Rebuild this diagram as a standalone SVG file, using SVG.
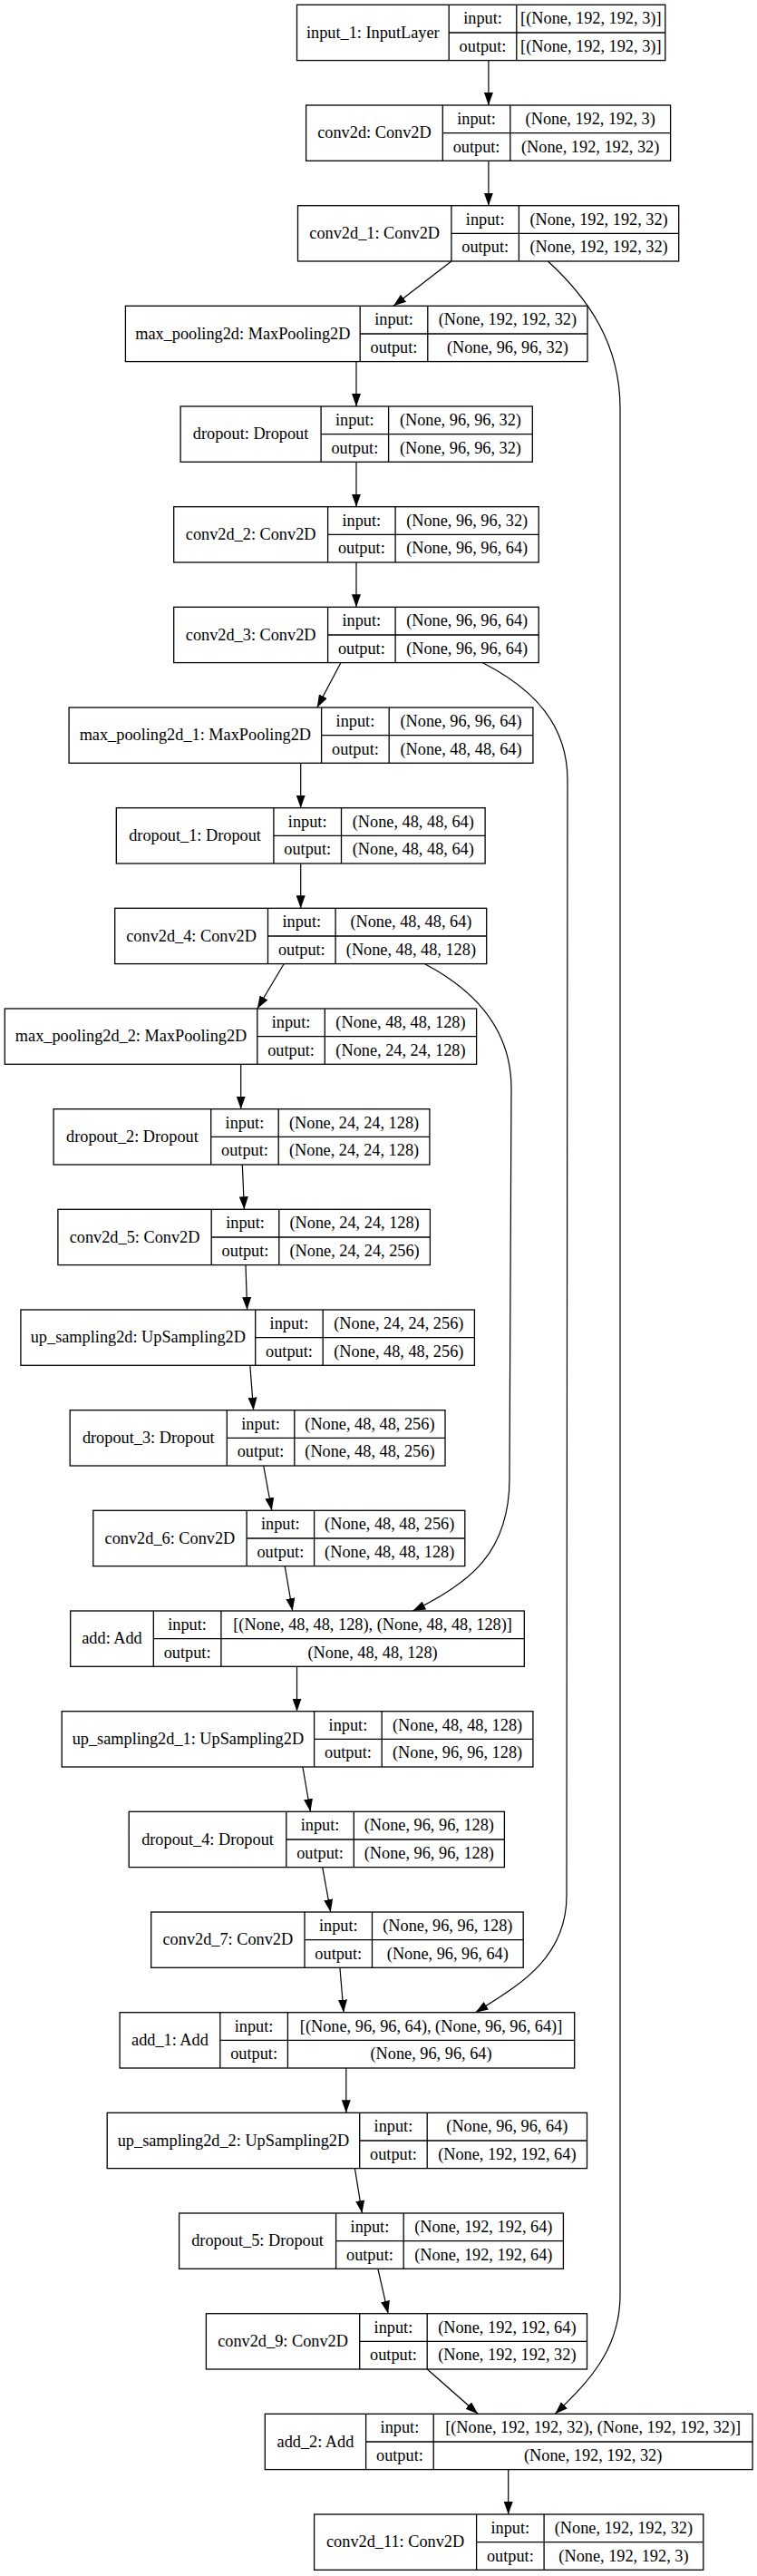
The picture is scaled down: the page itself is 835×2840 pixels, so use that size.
<svg xmlns="http://www.w3.org/2000/svg" width="835" height="2840" viewBox="0 0 835 2840">
<style>
.node rect{fill:#fff;stroke:#000;stroke-width:1.3}
.node path{fill:none;stroke:#000;stroke-width:1.3}
.node text{font-family:"Liberation Serif","Times New Roman",serif;font-size:18.3px;fill:#000;text-anchor:middle}
.edges path{fill:none;stroke:#000;stroke-width:1.2;marker-end:url(#arr)}
</style>
<defs>
<marker id="arr" viewBox="0 0 14 10" refX="14" refY="5" markerWidth="14" markerHeight="10" markerUnits="userSpaceOnUse" orient="auto">
<path d="M0,0 L14,5 L0,10 z" fill="#000"/>
</marker>
</defs>
<rect width="835" height="2840" fill="#fff"/>
<g class="edges" id="connectors">
<path d="M538.9,66.7 L538.9,116"/>
<path d="M538.9,177.3 L538.9,226.7"/>
<path d="M497.9,288 L434,337.3"/>
<path d="M393,398.7 L393,448"/>
<path d="M393,509.3 L393,558.7"/>
<path d="M393,620 L393,669.3"/>
<path d="M375.9,730.7 L349.8,780"/>
<path d="M331.7,841.3 L331.7,890.7"/>
<path d="M331.7,952 L331.7,1001.3"/>
<path d="M313.1,1062.7 L283.8,1112"/>
<path d="M265.7,1173.3 L265.7,1222.7"/>
<path d="M267.3,1284 L269.4,1333.3"/>
<path d="M271,1394.7 L272.6,1444"/>
<path d="M275.8,1505.3 L279.6,1554.7"/>
<path d="M290.7,1616 L299.8,1665.3"/>
<path d="M314.2,1726.7 L322.7,1776"/>
<path d="M327.5,1837.3 L327.5,1886.7"/>
<path d="M333.9,1948 L342.4,1997.3"/>
<path d="M355.7,2058.7 L364.7,2108"/>
<path d="M374.9,2169.3 L379.1,2218.7"/>
<path d="M381.8,2280 L381.8,2329.3"/>
<path d="M391.4,2390.7 L399.4,2440"/>
<path d="M416.9,2501.3 L428.1,2550.7"/>
<path d="M471.2,2612 L527.2,2661.3"/>
<path d="M560.7,2722.7 L560.7,2772"/>
<path d="M604.4,288 C650,330 684,380 684,450 L684,2530 C684,2590 650,2625 612.4,2661.3"/>
<path d="M532.5,730.7 C590,760 626,800 626,860 L625,2090 C625,2160 570,2190 524.5,2218.7"/>
<path d="M468.6,1062.7 C530,1095 564,1140 564,1200 L562,1630 C562,1710 520,1745 455.3,1776"/>
</g>
<g id="input_1" class="node"><rect x="327.5" y="5.3" width="406.3" height="61.3"/><path d="M495.2,5.3V66.7M569.8,5.3V66.7M495.2,36H733.8"/><text x="411.35" y="41.7">input_1: InputLayer</text><text x="532.5" y="26.3">input:</text><text x="532.5" y="57">output:</text><text x="651.8" y="26.3">[(None, 192, 192, 3)]</text><text x="651.8" y="57">[(None, 192, 192, 3)]</text></g>
<g id="conv2d" class="node"><rect x="337.6" y="116" width="402" height="61.3"/><path d="M488.3,116V177.3M562.8,116V177.3M488.3,146.7H739.6"/><text x="412.95" y="152.4">conv2d: Conv2D</text><text x="525.55" y="137">input:</text><text x="525.55" y="167.7">output:</text><text x="651.2" y="137">(None, 192, 192, 3)</text><text x="651.2" y="167.7">(None, 192, 192, 32)</text></g>
<g id="conv2d_1" class="node"><rect x="328.5" y="226.7" width="420.2" height="61.3"/><path d="M497.9,226.7V288M572.4,226.7V288M497.9,257.3H748.7"/><text x="413.2" y="263.1">conv2d_1: Conv2D</text><text x="535.15" y="247.7">input:</text><text x="535.15" y="278.4">output:</text><text x="660.55" y="247.7">(None, 192, 192, 32)</text><text x="660.55" y="278.4">(None, 192, 192, 32)</text></g>
<g id="max_pooling2d" class="node"><rect x="138.4" y="337.3" width="509.6" height="61.3"/><path d="M397.2,337.3V398.7M471.8,337.3V398.7M397.2,368H648"/><text x="267.8" y="373.7">max_pooling2d: MaxPooling2D</text><text x="434.5" y="358.3">input:</text><text x="434.5" y="389">output:</text><text x="559.9" y="358.3">(None, 192, 192, 32)</text><text x="559.9" y="389">(None, 96, 96, 32)</text></g>
<g id="dropout" class="node"><rect x="199.1" y="448" width="388.2" height="61.3"/><path d="M354.1,448V509.3M428.6,448V509.3M354.1,478.7H587.3"/><text x="276.6" y="484.4">dropout: Dropout</text><text x="391.35" y="469">input:</text><text x="391.35" y="499.7">output:</text><text x="507.95" y="469">(None, 96, 96, 32)</text><text x="507.95" y="499.7">(None, 96, 96, 32)</text></g>
<g id="conv2d_2" class="node"><rect x="191.7" y="558.7" width="402.5" height="61.3"/><path d="M361.6,558.7V620M436.1,558.7V620M361.6,589.3H594.2"/><text x="276.65" y="595.1">conv2d_2: Conv2D</text><text x="398.85" y="579.7">input:</text><text x="398.85" y="610.4">output:</text><text x="515.15" y="579.7">(None, 96, 96, 32)</text><text x="515.15" y="610.4">(None, 96, 96, 64)</text></g>
<g id="conv2d_3" class="node"><rect x="191.7" y="669.3" width="402.5" height="61.3"/><path d="M361.6,669.3V730.7M436.1,669.3V730.7M361.6,700H594.2"/><text x="276.65" y="705.7">conv2d_3: Conv2D</text><text x="398.85" y="690.3">input:</text><text x="398.85" y="721">output:</text><text x="515.15" y="690.3">(None, 96, 96, 64)</text><text x="515.15" y="721">(None, 96, 96, 64)</text></g>
<g id="max_pooling2d_1" class="node"><rect x="76.1" y="780" width="511.8" height="61.3"/><path d="M354.6,780V841.3M429.2,780V841.3M354.6,810.7H587.9"/><text x="215.35" y="816.4">max_pooling2d_1: MaxPooling2D</text><text x="391.9" y="801">input:</text><text x="391.9" y="831.7">output:</text><text x="508.55" y="801">(None, 96, 96, 64)</text><text x="508.55" y="831.7">(None, 48, 48, 64)</text></g>
<g id="dropout_1" class="node"><rect x="128.3" y="890.7" width="406.8" height="61.3"/><path d="M301.9,890.7V952M376.5,890.7V952M301.9,921.3H535.1"/><text x="215.1" y="927.1">dropout_1: Dropout</text><text x="339.2" y="911.7">input:</text><text x="339.2" y="942.4">output:</text><text x="455.8" y="911.7">(None, 48, 48, 64)</text><text x="455.8" y="942.4">(None, 48, 48, 64)</text></g>
<g id="conv2d_4" class="node"><rect x="126.7" y="1001.3" width="410" height="61.3"/><path d="M295.5,1001.3V1062.7M370.1,1001.3V1062.7M295.5,1032H536.7"/><text x="211.1" y="1037.7">conv2d_4: Conv2D</text><text x="332.8" y="1022.3">input:</text><text x="332.8" y="1053">output:</text><text x="453.4" y="1022.3">(None, 48, 48, 64)</text><text x="453.4" y="1053">(None, 48, 48, 128)</text></g>
<g id="max_pooling2d_2" class="node"><rect x="5.3" y="1112" width="520.3" height="61.3"/><path d="M283.8,1112V1173.3M358.3,1112V1173.3M283.8,1142.7H525.6"/><text x="144.55" y="1148.4">max_pooling2d_2: MaxPooling2D</text><text x="321.05" y="1133">input:</text><text x="321.05" y="1163.7">output:</text><text x="441.95" y="1133">(None, 48, 48, 128)</text><text x="441.95" y="1163.7">(None, 24, 24, 128)</text></g>
<g id="dropout_2" class="node"><rect x="59.1" y="1222.7" width="414.8" height="61.3"/><path d="M232.7,1222.7V1284M307.2,1222.7V1284M232.7,1253.3H473.9"/><text x="145.9" y="1259.1">dropout_2: Dropout</text><text x="269.95" y="1243.7">input:</text><text x="269.95" y="1274.4">output:</text><text x="390.55" y="1243.7">(None, 24, 24, 128)</text><text x="390.55" y="1274.4">(None, 24, 24, 128)</text></g>
<g id="conv2d_5" class="node"><rect x="63.9" y="1333.3" width="410.5" height="61.3"/><path d="M233.2,1333.3V1394.7M307.8,1333.3V1394.7M233.2,1364H474.4"/><text x="148.55" y="1369.7">conv2d_5: Conv2D</text><text x="270.5" y="1354.3">input:</text><text x="270.5" y="1385">output:</text><text x="391.1" y="1354.3">(None, 24, 24, 128)</text><text x="391.1" y="1385">(None, 24, 24, 256)</text></g>
<g id="up_sampling2d" class="node"><rect x="22.9" y="1444" width="500.5" height="61.3"/><path d="M281.7,1444V1505.3M356.2,1444V1505.3M281.7,1474.7H523.4"/><text x="152.3" y="1480.4">up_sampling2d: UpSampling2D</text><text x="318.95" y="1465">input:</text><text x="318.95" y="1495.7">output:</text><text x="439.8" y="1465">(None, 24, 24, 256)</text><text x="439.8" y="1495.7">(None, 48, 48, 256)</text></g>
<g id="dropout_3" class="node"><rect x="77.2" y="1554.7" width="413.8" height="61.3"/><path d="M250.3,1554.7V1616M324.8,1554.7V1616M250.3,1585.3H491"/><text x="163.75" y="1591.1">dropout_3: Dropout</text><text x="287.55" y="1575.7">input:</text><text x="287.55" y="1606.4">output:</text><text x="407.9" y="1575.7">(None, 48, 48, 256)</text><text x="407.9" y="1606.4">(None, 48, 48, 256)</text></g>
<g id="conv2d_6" class="node"><rect x="102.8" y="1665.3" width="410" height="61.3"/><path d="M272.1,1665.3V1726.7M346.6,1665.3V1726.7M272.1,1696H512.8"/><text x="187.45" y="1701.7">conv2d_6: Conv2D</text><text x="309.35" y="1686.3">input:</text><text x="309.35" y="1717">output:</text><text x="429.7" y="1686.3">(None, 48, 48, 256)</text><text x="429.7" y="1717">(None, 48, 48, 128)</text></g>
<g id="add" class="node"><rect x="77.7" y="1776" width="500.6" height="61.3"/><path d="M169.3,1776V1837.3M243.9,1776V1837.3M169.3,1806.7H578.3"/><text x="123.5" y="1812.4">add: Add</text><text x="206.6" y="1797">input:</text><text x="206.6" y="1827.7">output:</text><text x="411.1" y="1797">[(None, 48, 48, 128), (None, 48, 48, 128)]</text><text x="411.1" y="1827.7">(None, 48, 48, 128)</text></g>
<g id="up_sampling2d_1" class="node"><rect x="68.2" y="1886.7" width="519.7" height="61.3"/><path d="M346.6,1886.7V1948M421.2,1886.7V1948M346.6,1917.3H587.9"/><text x="207.4" y="1923.1">up_sampling2d_1: UpSampling2D</text><text x="383.9" y="1907.7">input:</text><text x="383.9" y="1938.4">output:</text><text x="504.55" y="1907.7">(None, 48, 48, 128)</text><text x="504.55" y="1938.4">(None, 96, 96, 128)</text></g>
<g id="dropout_4" class="node"><rect x="142.2" y="1997.3" width="414.2" height="61.3"/><path d="M315.8,1997.3V2058.7M390.3,1997.3V2058.7M315.8,2028H556.4"/><text x="229" y="2033.7">dropout_4: Dropout</text><text x="353.05" y="2018.3">input:</text><text x="353.05" y="2049">output:</text><text x="473.35" y="2018.3">(None, 96, 96, 128)</text><text x="473.35" y="2049">(None, 96, 96, 128)</text></g>
<g id="conv2d_7" class="node"><rect x="166.7" y="2108" width="410.5" height="61.3"/><path d="M336,2108V2169.3M410.5,2108V2169.3M336,2138.7H577.2"/><text x="251.35" y="2144.4">conv2d_7: Conv2D</text><text x="373.25" y="2129">input:</text><text x="373.25" y="2159.7">output:</text><text x="493.85" y="2129">(None, 96, 96, 128)</text><text x="493.85" y="2159.7">(None, 96, 96, 64)</text></g>
<g id="add_1" class="node"><rect x="132.1" y="2218.7" width="501.6" height="61.3"/><path d="M242.8,2218.7V2280M317.4,2218.7V2280M242.8,2249.3H633.7"/><text x="187.45" y="2255.1">add_1: Add</text><text x="280.1" y="2239.7">input:</text><text x="280.1" y="2270.4">output:</text><text x="475.55" y="2239.7">[(None, 96, 96, 64), (None, 96, 96, 64)]</text><text x="475.55" y="2270.4">(None, 96, 96, 64)</text></g>
<g id="up_sampling2d_2" class="node"><rect x="118.2" y="2329.3" width="529.3" height="61.3"/><path d="M396.7,2329.3V2390.7M471.2,2329.3V2390.7M396.7,2360H647.5"/><text x="257.45" y="2365.7">up_sampling2d_2: UpSampling2D</text><text x="433.95" y="2350.3">input:</text><text x="433.95" y="2381">output:</text><text x="559.35" y="2350.3">(None, 96, 96, 64)</text><text x="559.35" y="2381">(None, 192, 192, 64)</text></g>
<g id="dropout_5" class="node"><rect x="197.6" y="2440" width="423.8" height="61.3"/><path d="M370.6,2440V2501.3M445.2,2440V2501.3M370.6,2470.7H621.4"/><text x="284.1" y="2476.4">dropout_5: Dropout</text><text x="407.9" y="2461">input:</text><text x="407.9" y="2491.7">output:</text><text x="533.3" y="2461">(None, 192, 192, 64)</text><text x="533.3" y="2491.7">(None, 192, 192, 64)</text></g>
<g id="conv2d_9" class="node"><rect x="227.4" y="2550.7" width="420.1" height="61.3"/><path d="M396.7,2550.7V2612M471.2,2550.7V2612M396.7,2581.3H647.5"/><text x="312.05" y="2587.1">conv2d_9: Conv2D</text><text x="433.95" y="2571.7">input:</text><text x="433.95" y="2602.4">output:</text><text x="559.35" y="2571.7">(None, 192, 192, 64)</text><text x="559.35" y="2602.4">(None, 192, 192, 32)</text></g>
<g id="add_2" class="node"><rect x="292.3" y="2661.3" width="537.8" height="61.3"/><path d="M403.6,2661.3V2722.7M478.2,2661.3V2722.7M403.6,2692H830.1"/><text x="347.95" y="2697.7">add_2: Add</text><text x="440.9" y="2682.3">input:</text><text x="440.9" y="2713">output:</text><text x="654.15" y="2682.3">[(None, 192, 192, 32), (None, 192, 192, 32)]</text><text x="654.15" y="2713">(None, 192, 192, 32)</text></g>
<g id="conv2d_11" class="node"><rect x="346.6" y="2772" width="429.2" height="61.3"/><path d="M525.6,2772V2833.3M600.1,2772V2833.3M525.6,2802.7H775.8"/><text x="436.1" y="2808.4">conv2d_11: Conv2D</text><text x="562.85" y="2793">input:</text><text x="562.85" y="2823.7">output:</text><text x="687.95" y="2793">(None, 192, 192, 32)</text><text x="687.95" y="2823.7">(None, 192, 192, 3)</text></g>
</svg>
